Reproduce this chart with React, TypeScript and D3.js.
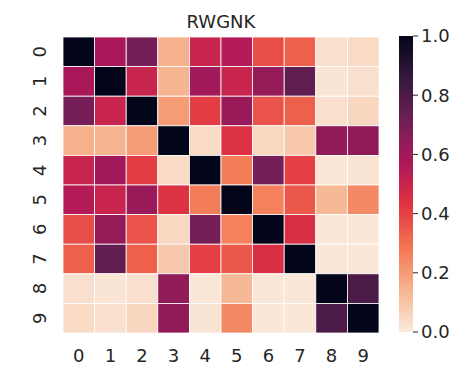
import React from "react";
import * as d3 from "d3";

const title = "RWGNK";
const labels = ["0", "1", "2", "3", "4", "5", "6", "7", "8", "9"];

// correlation matrix, row by row
const row0 = [1.0, 0.58, 0.7, 0.15, 0.5, 0.55, 0.37, 0.33, 0.03, 0.045];
const row1 = [0.58, 1.0, 0.5, 0.14, 0.6, 0.5, 0.63, 0.75, 0.015, 0.03];
const row2 = [0.7, 0.5, 1.0, 0.2, 0.41, 0.62, 0.36, 0.33, 0.03, 0.055];
const row3 = [0.15, 0.14, 0.2, 1.0, 0.045, 0.44, 0.05, 0.09, 0.64, 0.64];
const row4 = [0.5, 0.6, 0.41, 0.045, 1.0, 0.27, 0.7, 0.4, 0.01, 0.02];
const row5 = [0.55, 0.5, 0.62, 0.44, 0.27, 1.0, 0.26, 0.35, 0.13, 0.24];
const row6 = [0.37, 0.63, 0.36, 0.05, 0.7, 0.26, 1.0, 0.45, 0.01, 0.01];
const row7 = [0.33, 0.75, 0.33, 0.09, 0.4, 0.35, 0.45, 1.0, 0.01, 0.01];
const row8 = [0.03, 0.015, 0.03, 0.64, 0.01, 0.13, 0.01, 0.01, 1.0, 0.8];
const row9 = [0.045, 0.03, 0.055, 0.64, 0.02, 0.24, 0.01, 0.01, 0.8, 1.0];
const rows = [row0, row1, row2, row3, row4, row5, row6, row7, row8, row9];

const colorTicks = [0, 0.2, 0.4, 0.6, 0.8, 1.0];

// reversed "rocket" palette anchors (light -> dark)
const rocketStops = ["#faebdd", "#f6b48f", "#f37651", "#e13342", "#ad1759", "#701f57", "#35193e", "#03051a"];

const W = 472;
const H = 368;
const grid = { left: 63, right: 379, top: 37, bottom: 333 };
const bar = { left: 399, right: 413, top: 36, bottom: 332 };
const font = "DejaVu Sans, sans-serif";

export default function App() {
  const x = d3.scaleBand<string>().domain(labels).range([grid.left, grid.right]);
  const y = d3.scaleBand<string>().domain(labels).range([grid.top, grid.bottom]);
  const color = d3
    .scaleLinear<string>()
    .domain(rocketStops.map((_, i) => i / (rocketStops.length - 1)))
    .range(rocketStops)
    .interpolate(d3.interpolateRgb)
    .clamp(true);
  const cy = d3.scaleLinear().domain([0, 1]).range([bar.bottom, bar.top]);

  const gradStops = d3.range(0, 1.0001, 0.02);

  return (
    <svg
      width={W}
      height={H}
      style={{ position: "absolute", left: 0, top: 0, background: "#fff" }}
      fontFamily={font}
    >
      <defs>
        <linearGradient id="cbar" x1="0" y1="1" x2="0" y2="0">
          {gradStops.map((t) => (
            <stop key={t} offset={t} stopColor={color(t)} />
          ))}
        </linearGradient>
      </defs>

      <text x={(grid.left + grid.right) / 2} y={28} textAnchor="middle" fontSize={18} fill="#262626">
        {title}
      </text>

      {rows.map((r, i) =>
        r.map((v, j) => (
          <rect
            key={`${i}-${j}`}
            x={x(labels[j])}
            y={y(labels[i])}
            width={x.bandwidth()}
            height={y.bandwidth()}
            fill={color(v)}
            stroke="#ffffff"
            strokeWidth={0.8}
          />
        ))
      )}

      {labels.map((l) => (
        <text
          key={`x${l}`}
          x={(x(l) as number) + x.bandwidth() / 2}
          y={362}
          textAnchor="middle"
          fontSize={18}
          fill="#262626"
        >
          {l}
        </text>
      ))}

      {labels.map((l) => {
        const py = (y(l) as number) + y.bandwidth() / 2;
        return (
          <text
            key={`y${l}`}
            transform={`translate(46,${py}) rotate(-90)`}
            textAnchor="middle"
            fontSize={18}
            fill="#262626"
          >
            {l}
          </text>
        );
      })}

      <rect x={bar.left} y={bar.top} width={bar.right - bar.left} height={bar.bottom - bar.top} fill="url(#cbar)" />

      {colorTicks.map((t) => (
        <g key={`c${t}`}>
          <line x1={bar.right} x2={bar.right + 5} y1={cy(t)} y2={cy(t)} stroke="#262626" strokeWidth={1} />
          <text x={bar.right + 8} y={cy(t)} dy="0.36em" fontSize={18} fill="#262626">
            {d3.format(".1f")(t)}
          </text>
        </g>
      ))}
    </svg>
  );
}
